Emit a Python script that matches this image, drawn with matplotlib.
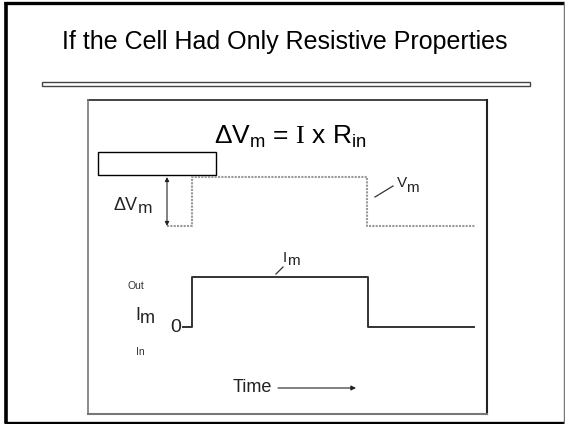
import matplotlib.pyplot as plt
from matplotlib.patches import Rectangle

plt.rcParams['font.family'] = ['Liberation Sans', 'DejaVu Sans']
plt.rcParams['mathtext.fontset'] = 'custom'
plt.rcParams['mathtext.rm'] = 'Liberation Serif'

# step traces: (time, level) pairs, levels are 0 = rest, 1 = during the pulse
vm_time = [0.7, 3.2, 3.2, 20.7, 20.7, 31.5]
vm_level = [0, 0, 1, 1, 0, 0]
im_time = [2.3, 3.2, 3.2, 20.8, 20.8, 31.4]
im_level = [0, 0, 1, 1, 0, 0]

title = 'If the Cell Had Only Resistive Properties'
equation = r'ΔV$_\mathregular{m}$ = $\mathrm{I}$ x R$_\mathregular{in}$'

fig = plt.figure(figsize=(5.65, 4.24), dpi=100)

# page layer in pixel units
page = fig.add_axes([0, 0, 1, 1])
page.set_xlim(0, 565)
page.set_ylim(424, 0)
page.axis('off')


def sub_label(x, y, base, sub, size, sub_size, sub_dx, sub_dy):
    # base letters plus a lowered, nearly full-size subscript
    page.text(x, y, base, ha='left', va='baseline', fontsize=size, color='#222222')
    page.text(x + sub_dx, y + sub_dy, sub, ha='left', va='baseline',
              fontsize=sub_size, color='#222222')


# slide frame
page.plot([5.5, 5.5], [2, 423], color='black', lw=2.6, solid_capstyle='butt')
page.plot([4, 564], [3, 3], color='black', lw=2.4, solid_capstyle='butt')
page.plot([4, 564], [423, 423], color='black', lw=2.4, solid_capstyle='butt')
page.plot([563.5, 563.5], [3, 423], color='#777777', lw=1)

page.text(285, 49, title, ha='center', va='baseline', fontsize=18)
page.add_patch(Rectangle((42, 82), 488, 4, facecolor='white', edgecolor='#444444', lw=1))

# figure box
page.plot([88, 487], [100, 100], color='#222222', lw=1.2)
page.plot([487, 487], [100, 414], color='#222222', lw=1.5)
page.plot([88, 88], [100, 414], color='#777777', lw=1.2)
page.plot([88, 487], [414, 414], color='#777777', lw=1.5)

page.text(290, 144, equation, ha='center', va='baseline', fontsize=19)
page.add_patch(Rectangle((98, 152), 118, 23, facecolor='white', edgecolor='black', lw=1))

sub_label(113, 210, 'ΔV', 'm', 13, 12.5, 25, 3)
sub_label(397, 187, 'V', 'm', 11, 11, 9, 5)
page.plot([375, 393], [197, 186], color='#333333', lw=0.9)
sub_label(283, 262, 'I', 'm', 11, 11, 4.5, 3)
page.plot([276, 283], [274, 267], color='#333333', lw=0.9)

page.text(127, 289, 'Out', ha='left', va='baseline', fontsize=7.5, color='#333333')
sub_label(135, 320, 'I', 'm', 13, 13, 5, 3)
page.text(170, 332, '0', ha='left', va='baseline', fontsize=14, color='#222222')
page.text(136, 355, 'In', ha='left', va='baseline', fontsize=7.5, color='#333333')
page.text(233, 392, 'Time', ha='left', va='baseline', fontsize=13, color='#222222')
page.annotate('', xy=(356, 388), xytext=(278, 388),
              arrowprops=dict(arrowstyle='-|>', color='#222222', lw=0.8,
                              mutation_scale=7, shrinkA=0, shrinkB=0))

# trace layer: 10 px per time unit, 50 px per level unit
ax = fig.add_axes([160 / 565, (424 - 335) / 424, 320 / 565, 165 / 424])
ax.set_xlim(0, 32)
ax.set_ylim(-0.16, 3.14)
ax.axis('off')

vm_offset = 2.02
vm_step = 0.98
ax.plot(vm_time, [vm_offset + vm_step * v for v in vm_level], color='#999999',
        lw=1.5, linestyle=(0, (1, 0.6)))
ax.plot(im_time, im_level, color='#333333', lw=1.4)

ax.annotate('', xy=(0.7, vm_offset), xytext=(0.7, vm_offset + vm_step),
            arrowprops=dict(arrowstyle='<|-|>', color='#222222', lw=0.8,
                            mutation_scale=6, shrinkA=0, shrinkB=0))

fig.savefig('out.png', dpi=100)
